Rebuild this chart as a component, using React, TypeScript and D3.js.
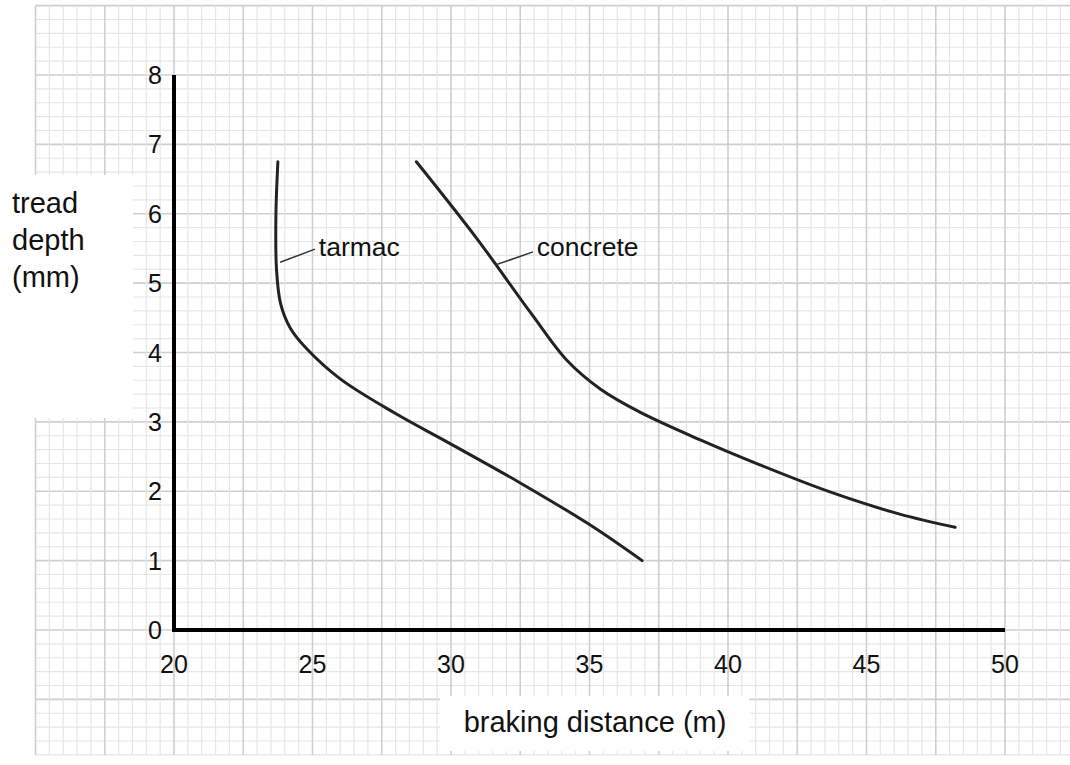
import React, {useMemo} from 'react';
import * as d3 from 'd3';

// values
const tarmacDistance = [23.75, 23.68, 23.7, 23.85, 24.2, 24.8, 26, 28, 30, 32.5, 35, 36.9];
const tarmacDepth = [6.75, 6.0, 5.2, 4.7, 4.35, 4.05, 3.62, 3.12, 2.68, 2.12, 1.52, 1.0];

const concreteDistance = [28.75, 30.9, 32.9, 34.2, 35.4, 36.82, 39.0, 41.15, 43.68, 46.2, 48.2];
const concreteDepth = [6.75, 5.66, 4.56, 3.88, 3.47, 3.14, 2.74, 2.38, 1.99, 1.67, 1.48];

const xTicks = [20, 25, 30, 35, 40, 45, 50];
const yTicks = [0, 1, 2, 3, 4, 5, 6, 7, 8];

const yTitleLines = ['tread', 'depth', '(mm)'];
const xTitle = 'braking distance (m)';

const labels = [
  {name: 'tarmac', from: [23.83, 5.3], to: [25.09, 5.49], text: [25.23, 5.39]},
  {name: 'concrete', from: [31.59, 5.26], to: [32.96, 5.45], text: [33.1, 5.39]},
];

const WIDTH = 1070;
const HEIGHT = 765;
const FONT = '"Liberation Sans", Arial, sans-serif';

const App: React.FC = () => {
  const x = useMemo(() => d3.scaleLinear().domain([20, 50]).range([174, 1005]), []);
  const y = useMemo(() => d3.scaleLinear().domain([0, 8]).range([630, 75]), []);

  const line = d3.line<[number, number]>()
      .x(d => x(d[0]))
      .y(d => y(d[1]))
      .curve(d3.curveCatmullRom.alpha(0.5));

  const tarmac = tarmacDistance.map((d, i) => [d, tarmacDepth[i]] as [number, number]);
  const concrete = concreteDistance.map((d, i) => [d, concreteDepth[i]] as [number, number]);

  // graph paper: minor every 0.5 m / 0.2 mm, major every 5 squares
  const gridX = d3.range(-10, 65).map(k => ({v: 20 + k * 0.5, major: k % 5 === 0}));
  const gridY = d3.range(-9, 46).map(k => ({v: k * 0.2, major: k % 5 === 0}));
  const gridLeft = x(15);
  const gridTop = y(9);
  const gridBottom = y(-1.8);

  return (
      <svg width={WIDTH} height={HEIGHT}
           style={{position: 'absolute', left: 0, top: 0, background: '#fff'}}>
        <g>
          {gridY.map(g => (
              <line key={`h${g.v}`} x1={gridLeft} x2={WIDTH} y1={y(g.v)} y2={y(g.v)}
                    stroke={g.major ? '#cfcfcf' : '#e6e6e6'} strokeWidth={g.major ? 1.6 : 1.2}/>
          ))}
          {gridX.filter(g => x(g.v) <= WIDTH).map(g => (
              <line key={`v${g.v}`} x1={x(g.v)} x2={x(g.v)} y1={gridTop} y2={gridBottom}
                    stroke={g.major ? '#cfcfcf' : '#e6e6e6'} strokeWidth={g.major ? 1.6 : 1.2}/>
          ))}
        </g>

        {/* white patches behind the axis titles */}
        <rect x={0} y={175} width={133} height={243} fill="#fff"/>
        <rect x={440} y={696} width={309} height={55} fill="#fff"/>

        <path d={`M${x(20)},${y(8)}V${y(0)}H${x(50)}`} fill="none" stroke="#000"
              strokeWidth={4} strokeLinejoin="miter"/>

        <g fontFamily={FONT} fontSize={25} fill="#111">
          {xTicks.map(t => (
              <text key={`x${t}`} x={x(t)} y={673} textAnchor="middle">{t}</text>
          ))}
          {yTicks.map(t => (
              <text key={`y${t}`} x={162} y={y(t) + 9} textAnchor="end">{t}</text>
          ))}
        </g>

        <path d={line(tarmac) || ''} fill="none" stroke="#222" strokeWidth={3} strokeLinecap="round"/>
        <path d={line(concrete) || ''} fill="none" stroke="#222" strokeWidth={3} strokeLinecap="round"/>

        {labels.map(l => (
            <g key={l.name}>
              <line x1={x(l.from[0])} y1={y(l.from[1])} x2={x(l.to[0])} y2={y(l.to[1])}
                    stroke="#333" strokeWidth={1.5}/>
              <text x={x(l.text[0])} y={y(l.text[1])} fontFamily={FONT} fontSize={26.5}
                    fill="#111">{l.name}</text>
            </g>
        ))}

        <g fontFamily={FONT} fontSize={29} fill="#111">
          {yTitleLines.map((s, i) => (
              <text key={s} x={12} y={213 + i * 37}>{s}</text>
          ))}
          <text x={595} y={732} textAnchor="middle">{xTitle}</text>
        </g>
      </svg>
  );
};

export default App;
